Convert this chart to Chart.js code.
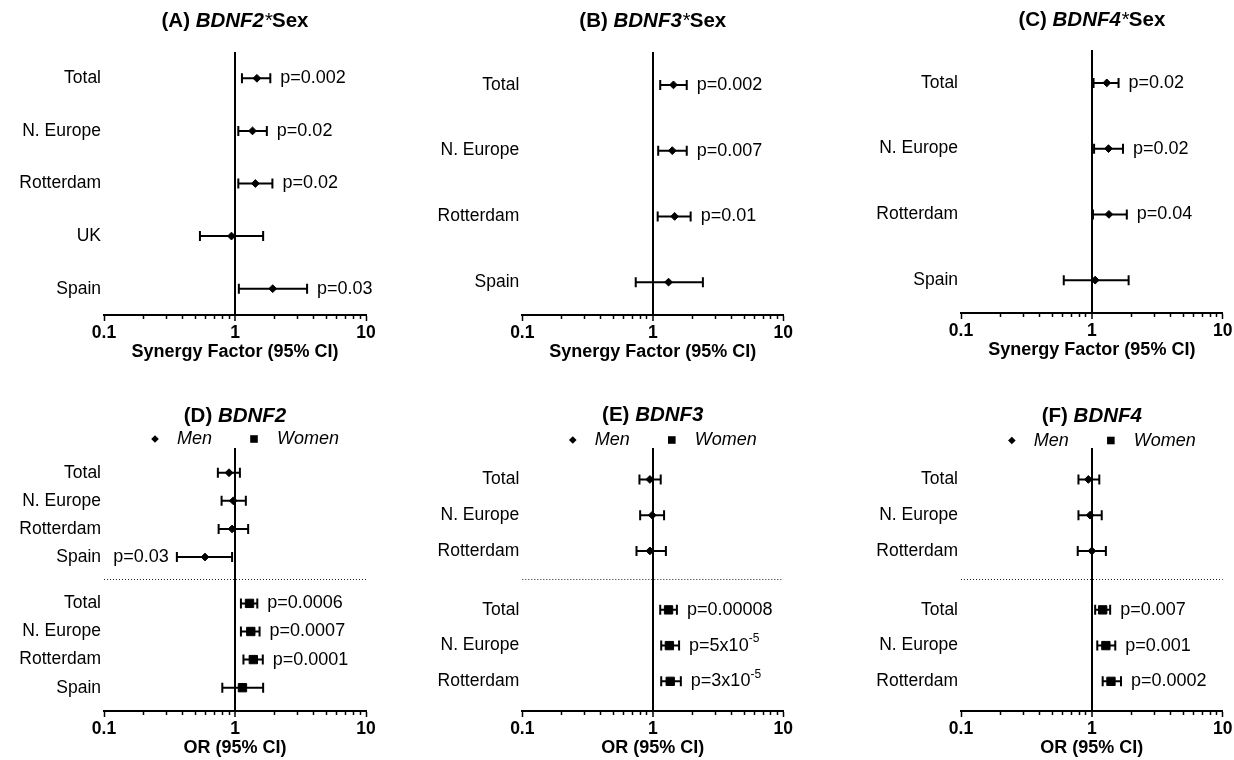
<!DOCTYPE html>
<html>
<head>
<meta charset="utf-8">
<script src="https://cdn.jsdelivr.net/npm/chart.js@4.4.1/dist/chart.umd.min.js"></script>
<style>
  html, body { margin: 0; padding: 0; background: #fff; }
  #wrap { position: relative; width: 1234px; height: 760px; background: #fff; overflow: hidden; }
  #wrap canvas { position: absolute; }
</style>
</head>
<body>
<div id="wrap"></div>
<script>
// ---- data ----
// (A) BDNF2*Sex synergy factors
const rowsA = ['Total', 'N. Europe', 'Rotterdam', 'UK', 'Spain'];
const sfA = [1.47, 1.36, 1.43, 0.94, 1.94];
const loA = [1.13, 1.06, 1.06, 0.54, 1.07];
const hiA = [1.86, 1.75, 1.93, 1.64, 3.55];
const pA = ['p=0.002', 'p=0.02', 'p=0.02', '', 'p=0.03'];

// (B) BDNF3*Sex
const rowsB = ['Total', 'N. Europe', 'Rotterdam', 'Spain'];
const sfB = [1.44, 1.41, 1.47, 1.32];
const loB = [1.14, 1.10, 1.09, 0.74];
const hiB = [1.82, 1.82, 1.95, 2.42];
const pB = ['p=0.002', 'p=0.007', 'p=0.01', ''];

// (C) BDNF4*Sex
const rowsC = ['Total', 'N. Europe', 'Rotterdam', 'Spain'];
const sfC = [1.30, 1.34, 1.35, 1.06];
const loC = [1.03, 1.04, 1.02, 0.61];
const hiC = [1.60, 1.73, 1.85, 1.91];
const pC = ['p=0.02', 'p=0.02', 'p=0.04', ''];

// (D) BDNF2 odds ratios by sex
const rowsD = ['Total', 'N. Europe', 'Rotterdam', 'Spain'];
const menOrD = [0.90, 0.97, 0.95, 0.59];
const menLoD = [0.74, 0.79, 0.75, 0.36];
const menHiD = [1.09, 1.21, 1.26, 0.95];
const menPD = ['', '', '', 'p=0.03'];
const womenOrD = [1.29, 1.32, 1.38, 1.14];
const womenLoD = [1.11, 1.11, 1.16, 0.80];
const womenHiD = [1.48, 1.54, 1.63, 1.64];
const womenPD = ['p=0.0006', 'p=0.0007', 'p=0.0001', ''];

// (E) BDNF3
const rowsE = ['Total', 'N. Europe', 'Rotterdam'];
const menOrE = [0.95, 0.99, 0.95];
const menLoE = [0.79, 0.80, 0.75];
const menHiE = [1.15, 1.22, 1.26];
const menPE = ['', '', ''];
const womenOrE = [1.32, 1.34, 1.36];
const womenLoE = [1.14, 1.16, 1.16];
const womenHiE = [1.53, 1.59, 1.64];
const womenPE = ['p=0.00008', 'p=5x10^-5', 'p=3x10^-5'];

// (F) BDNF4
const rowsF = ['Total', 'N. Europe', 'Rotterdam'];
const menOrF = [0.94, 0.97, 1.00];
const menLoF = [0.79, 0.79, 0.78];
const menHiF = [1.14, 1.19, 1.28];
const menPF = ['', '', ''];
const womenOrF = [1.21, 1.28, 1.40];
const womenLoF = [1.06, 1.10, 1.21];
const womenHiF = [1.38, 1.51, 1.67];
const womenPF = ['p=0.007', 'p=0.001', 'p=0.0002'];

const xTickLabels = ['0.1', '1', '10'];
const legendLabels = ['Men', 'Women'];
const sfTitle = 'Synergy Factor (95% CI)';
const orTitle = 'OR (95% CI)';

const FONT = '"Liberation Sans", Arial, Helvetica, sans-serif';

// Panel boxes on the page: canvas [x, y, w, h], chart area [left, right, top, bottom]
const panels = [
  { key: 'A', box: [0, 0, 411, 380], area: [104, 366, 52, 315], titleY: 21.5,
    title: [['(A) ', 'bold'], ['BDNF2', 'italic bold'], ['*', 'italic'], ['Sex', 'bold']],
    xTitle: sfTitle, rows: rowsA, est: sfA, lo: loA, hi: hiA, p: pA },
  { key: 'B', box: [411, 0, 411, 380], area: [522.3, 783.3, 52, 315], titleY: 21.5,
    title: [['(B) ', 'bold'], ['BDNF3', 'italic bold'], ['*', 'italic'], ['Sex', 'bold']],
    xTitle: sfTitle, rows: rowsB, est: sfB, lo: loB, hi: hiB, p: pB },
  { key: 'C', box: [822, 0, 412, 380], area: [961, 1222.7, 50, 313], titleY: 20,
    title: [['(C) ', 'bold'], ['BDNF4', 'italic bold'], ['*', 'italic'], ['Sex', 'bold']],
    xTitle: sfTitle, rows: rowsC, est: sfC, lo: loC, hi: hiC, p: pC },
  { key: 'D', box: [0, 380, 411, 380], area: [104, 366, 448, 711], titleY: 36, legendY: 59,
    title: [['(D) ', 'bold'], ['BDNF2', 'italic bold']],
    xTitle: orTitle, rows: rowsD,
    men: { est: menOrD, lo: menLoD, hi: menHiD, p: menPD },
    women: { est: womenOrD, lo: womenLoD, hi: womenHiD, p: womenPD } },
  { key: 'E', box: [411, 380, 411, 380], area: [522.3, 783.3, 448, 711], titleY: 35.5, legendY: 60,
    title: [['(E) ', 'bold'], ['BDNF3', 'italic bold']],
    xTitle: orTitle, rows: rowsE,
    men: { est: menOrE, lo: menLoE, hi: menHiE, p: menPE },
    women: { est: womenOrE, lo: womenLoE, hi: womenHiE, p: womenPE } },
  { key: 'F', box: [822, 380, 412, 380], area: [961, 1222.7, 448, 711], titleY: 36.5, legendY: 60.5,
    title: [['(F) ', 'bold'], ['BDNF4', 'italic bold']],
    xTitle: orTitle, rows: rowsF,
    men: { est: menOrF, lo: menLoF, hi: menHiF, p: menPF },
    women: { est: womenOrF, lo: womenLoF, hi: womenHiF, p: womenPF } }
];

const ForestPlots = (() => {
  const Y_AXIS_W = 90;
  const X_AXIS_H = 48;
  const CAP = 5;

  // log ticks 0.1..10 (major at the decades)
  function logTicks() {
    const t = [];
    [-1, 0].forEach(e => {
      for (let k = 1; k <= 9; k++) t.push({ value: k * Math.pow(10, e), major: k === 1 });
    });
    t.push({ value: 10, major: true });
    return t;
  }

  function isNear(v, w) { return Math.abs(v - w) < 1e-9; }

  function drawMarker(ctx, style, x, y, r) {
    ctx.beginPath();
    if (style === 'rect') {
      ctx.rect(x - r, y - r, 2 * r, 2 * r);
    } else {
      ctx.moveTo(x, y - r); ctx.lineTo(x + r, y); ctx.lineTo(x, y + r); ctx.lineTo(x - r, y);
      ctx.closePath();
    }
    ctx.fill();
  }

  // text with optional superscript part after '^'
  function pText(ctx, txt, x, y, align) {
    const [main, sup] = txt.split('^');
    ctx.font = `18px ${FONT}`;
    const wMain = ctx.measureText(main).width;
    ctx.font = `12px ${FONT}`;
    const wSup = sup ? ctx.measureText(sup).width : 0;
    const x0 = align === 'right' ? x - wMain - wSup : x;
    ctx.textAlign = 'left';
    ctx.textBaseline = 'middle';
    ctx.font = `18px ${FONT}`;
    ctx.fillText(main, x0, y);
    if (sup) {
      ctx.font = `12px ${FONT}`;
      ctx.fillText(sup, x0 + wMain, y - 7);
    }
  }

  function decorPlugin(spec) {
    return {
      id: 'decor' + spec.key,
      beforeDatasetsDraw(chart) {
        const { ctx, chartArea, scales } = chart;
        const xs = scales.x, ys = scales.y;
        ctx.save();
        // dotted line between men and women blocks
        if (spec.sep != null) {
          const yy = Math.round(ys.getPixelForValue(spec.sep)) + 0.5;
          ctx.strokeStyle = '#222';
          ctx.lineWidth = 1;
          ctx.setLineDash([1, 2]);
          ctx.beginPath();
          ctx.moveTo(chartArea.left, yy);
          ctx.lineTo(chartArea.right, yy);
          ctx.stroke();
          ctx.setLineDash([]);
        }
        // confidence intervals
        ctx.strokeStyle = '#000';
        ctx.lineWidth = 2;
        chart.data.datasets.forEach((ds, i) => {
          chart.getDatasetMeta(i).data.forEach((pt, j) => {
            const d = ds.data[j];
            const x1 = xs.getPixelForValue(d.lo);
            const x2 = xs.getPixelForValue(d.hi);
            ctx.beginPath();
            ctx.moveTo(x1, pt.y); ctx.lineTo(x2, pt.y);
            ctx.moveTo(x1, pt.y - CAP); ctx.lineTo(x1, pt.y + CAP);
            ctx.moveTo(x2, pt.y - CAP); ctx.lineTo(x2, pt.y + CAP);
            ctx.stroke();
          });
        });
        ctx.restore();
      },
      afterDatasetsDraw(chart) {
        const { ctx, scales } = chart;
        const xs = scales.x;
        ctx.save();
        ctx.fillStyle = '#000';
        chart.data.datasets.forEach((ds, i) => {
          const meta = chart.getDatasetMeta(i);
          ds.pLabels.forEach((txt, j) => {
            if (!txt) return;
            const d = ds.data[j];
            const py = meta.data[j].y;
            if (d.hi < 1) pText(ctx, txt, xs.getPixelForValue(d.lo) - 8, py, 'right');
            else pText(ctx, txt, xs.getPixelForValue(d.hi) + 10, py, 'left');
          });
        });
        ctx.restore();
      },
      afterDraw(chart) {
        const { ctx, chartArea } = chart;
        const cx = chart.scales.x.getPixelForValue(1);
        ctx.save();
        ctx.fillStyle = '#000';
        ctx.textBaseline = 'middle';
        ctx.textAlign = 'left';
        // panel title with mixed styles
        const fonts = spec.title.map(s => `${s[1]} 20.5px ${FONT}`);
        let total = 0;
        const widths = spec.title.map((s, i) => {
          ctx.font = fonts[i];
          const w = ctx.measureText(s[0]).width;
          total += w;
          return w;
        });
        let tx = (chartArea.left + chartArea.right) / 2 - total / 2;
        spec.title.forEach((s, i) => {
          ctx.font = fonts[i];
          ctx.fillText(s[0], tx, spec.titleY);
          tx += widths[i];
        });
        // men / women key
        if (spec.legendY != null) {
          const ly = spec.legendY;
          drawMarker(ctx, 'rectRot', cx - 80, ly, 3.8);
          drawMarker(ctx, 'rect', cx + 19, ly, 3.8);
          ctx.font = `italic 18px ${FONT}`;
          ctx.fillText(legendLabels[0], cx - 58, ly);
          ctx.fillText(legendLabels[1], cx + 42, ly);
        }
        ctx.restore();
      }
    };
  }

  function makeDataset(est, lo, hi, p, yPos, style, radius) {
    return {
      data: est.map((v, i) => ({ x: v, y: yPos[i], lo: lo[i], hi: hi[i] })),
      pLabels: p,
      pointStyle: style,
      pointRadius: radius,
      pointHoverRadius: radius,
      pointBorderWidth: 1,
      backgroundColor: '#000',
      borderColor: '#000',
      showLine: false
    };
  }

  function buildPanel(spec) {
    const [bx, by, bw, bh] = spec.box;
    const [aL, aR, aT, aB] = spec.area;
    const n = spec.rows.length;

    let datasets, yMin, yMax, tickPos, tickText;
    if (spec.men) {
      const menPos = spec.rows.map((r, i) => i + 1);
      const womenPos = spec.rows.map((r, i) => n + 1.65 + i);
      spec.sep = n + 0.8;
      yMin = 0.12;
      yMax = 2 * n + 1.48;
      tickPos = menPos.concat(womenPos);
      tickText = spec.rows.concat(spec.rows);
      datasets = [
        makeDataset(spec.men.est, spec.men.lo, spec.men.hi, spec.men.p, menPos, 'rectRot', 3.9),
        makeDataset(spec.women.est, spec.women.lo, spec.women.hi, spec.women.p, womenPos, 'rect', 5.9)
      ];
    } else {
      const pos = spec.rows.map((r, i) => i);
      yMin = -0.5;
      yMax = n - 0.5;
      tickPos = pos;
      tickText = spec.rows;
      datasets = [makeDataset(spec.est, spec.lo, spec.hi, spec.p, pos, 'rectRot', 3.9)];
    }

    const canvas = document.createElement('canvas');
    canvas.width = bw;
    canvas.height = bh;
    canvas.style.left = bx + 'px';
    canvas.style.top = by + 'px';
    canvas.style.width = bw + 'px';
    canvas.style.height = bh + 'px';
    document.getElementById('wrap').appendChild(canvas);

    new Chart(canvas.getContext('2d'), {
      type: 'scatter',
      data: { datasets },
      options: {
        responsive: false,
        animation: false,
        devicePixelRatio: 1,
        layout: {
          padding: {
            left: aL - bx - Y_AXIS_W,
            right: bx + bw - aR,
            top: aT - by,
            bottom: by + bh - aB - X_AXIS_H
          }
        },
        plugins: {
          legend: { display: false },
          title: { display: false },
          tooltip: { enabled: false }
        },
        scales: {
          x: {
            type: 'logarithmic',
            position: 'bottom',
            min: 0.1,
            max: 10,
            afterBuildTicks: s => { s.ticks = logTicks(); },
            afterFit: s => { s.height = X_AXIS_H; s.paddingLeft = 0; s.paddingRight = 0; },
            border: { display: true, color: '#000', width: 2 },
            grid: {
              drawOnChartArea: true,
              drawTicks: true,
              tickLength: 6,
              color: c => (c.tick && isNear(c.tick.value, 1)) ? '#000' : 'rgba(0,0,0,0)',
              lineWidth: c => (c.tick && isNear(c.tick.value, 1)) ? 2 : 1,
              tickColor: '#000',
              tickWidth: 1.5,
              tickBorderDash: c => (c.tick && c.tick.major) ? [] : [3, 10]
            },
            ticks: {
              autoSkip: false,
              maxRotation: 0,
              minRotation: 0,
              padding: 2,
              color: '#000',
              font: { family: FONT, size: 17.5, weight: 'bold' },
              callback: v => {
                if (isNear(v, 0.1)) return xTickLabels[0];
                if (isNear(v, 1)) return xTickLabels[1];
                if (isNear(v, 10)) return xTickLabels[2];
                return '';
              }
            },
            title: {
              display: true,
              text: spec.xTitle,
              color: '#000',
              padding: 0,
              font: { family: FONT, size: 18, weight: 'bold' }
            }
          },
          y: {
            type: 'linear',
            position: 'left',
            reverse: true,
            min: yMin,
            max: yMax,
            afterBuildTicks: s => { s.ticks = tickPos.map(v => ({ value: v })); },
            afterFit: s => { s.width = Y_AXIS_W; s.paddingTop = 0; s.paddingBottom = 0; },
            border: { display: false },
            grid: { display: false, drawTicks: false },
            ticks: {
              autoSkip: false,
              padding: 3,
              color: '#000',
              font: { family: FONT, size: 17.5 },
              callback: (v, i) => tickText[i]
            }
          }
        }
      },
      plugins: [decorPlugin(spec)]
    });
  }

  function initialize() {
    panels.forEach(buildPanel);
  }

  return { initialize };
})();

ForestPlots.initialize();
</script>
</body>
</html>
